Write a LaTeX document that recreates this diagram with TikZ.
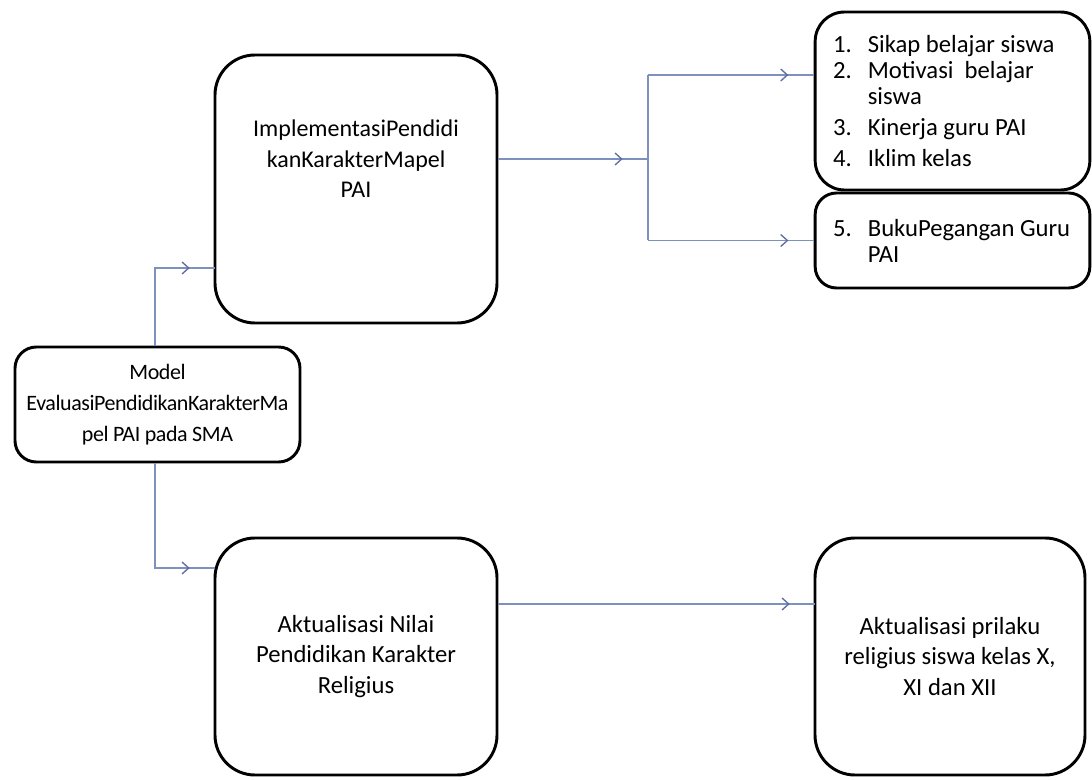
\documentclass[tikz,border=0pt]{standalone}
\usepackage{fontspec}
\setmainfont{Carlito}
\usetikzlibrary{arrows.meta, decorations.markings}

\definecolor{linkblue}{RGB}{125,145,190}
\definecolor{tipblue}{RGB}{95,110,160}

\newcommand{\itemno}[1]{\makebox[26pt][l]{#1}}

\tikzset{
  box/.style={draw, line width=2.2pt, rounded corners=30pt, align=center,
    inner sep=0pt, font=\fontsize{18.5}{23}\selectfont},
  txt/.style={align=center, inner sep=0pt, font=\fontsize{18}{23}\selectfont},
  listbox/.style={box, align=flush left, text width=179pt, inner xsep=13.5pt,
    font=\fontsize{18.5}{19.5}\selectfont},
  line/.style={draw=linkblue, line width=1pt},
  link/.style={line, postaction={decorate},
    decoration={markings, mark=at position -19pt with
      {\arrow[tipblue]{Straight Barb[length=5pt, width=9pt, line width=1pt]}}}},
}

\begin{document}
\begin{tikzpicture}[x=0.75pt, y=-0.75pt]
\useasboundingbox (0,0) rectangle (1092,780);

\node (impl) [box, minimum width=211.5pt, minimum height=201pt] at (356,189) {};
\node (implText) [txt] at (356,159) {ImplementasiPendidi\\kanKarakterMapel\\PAI};
\node (model) [box, rounded corners=16pt, minimum width=213.75pt, minimum height=86.25pt,
  font=\fontsize{16.5}{23}\selectfont\addfontfeature{LetterSpace=-2}] at (157.5,404.5)
  {Model\\EvaluasiPendidikanKarakterMa\\pel PAI pada SMA};
\node (akt) [box, minimum width=211.5pt, minimum height=177.75pt] at (356,656.5)
  {Aktualisasi Nilai\\Pendidikan Karakter\\Religius};
\node (prilaku) [box, minimum width=202.5pt, minimum height=177.75pt] at (950,656.5)
  {Aktualisasi prilaku\\religius siswa kelas X,\\XI dan XII};
\node (list) [listbox, rounded corners=22pt, minimum height=133.5pt] at (952.5,101)
  {\itemno{1.}Sikap belajar siswa\\
   \itemno{2.}Motivasi\ \ belajar\\
   \itemno{}siswa\\[4pt]
   \itemno{3.}Kinerja guru PAI\\[4pt]
   \itemno{4.}Iklim kelas};
\node (buku) [listbox, rounded corners=16pt, minimum height=71.25pt] at (952.5,240.5)
  {\itemno{5.}BukuPegangan Guru\\
   \itemno{}PAI};

\coordinate (implIn) at (215,268);
\coordinate (aktIn) at (215,568);
\coordinate (fork) at (648,159);
\coordinate (forkTop) at (648,75);
\coordinate (forkBot) at (648,240.5);
\coordinate (prilakuIn) at (815,604);

% model to both branches
\draw [link] (model.north -| 155,0) |- (implIn);
\draw [link] (model.south -| 155,0) |- (aktIn);
% fork to the list boxes
\draw [link] (impl.east |- implText) -- (fork);
\draw [line] (forkTop) -- (forkBot);
\draw [link] (forkTop) -- (list.west |- forkTop);
\draw [link] (forkBot) -- (buku.west);
\draw [link] (akt.east |- prilakuIn) -- (prilakuIn);
\end{tikzpicture}
\end{document}
